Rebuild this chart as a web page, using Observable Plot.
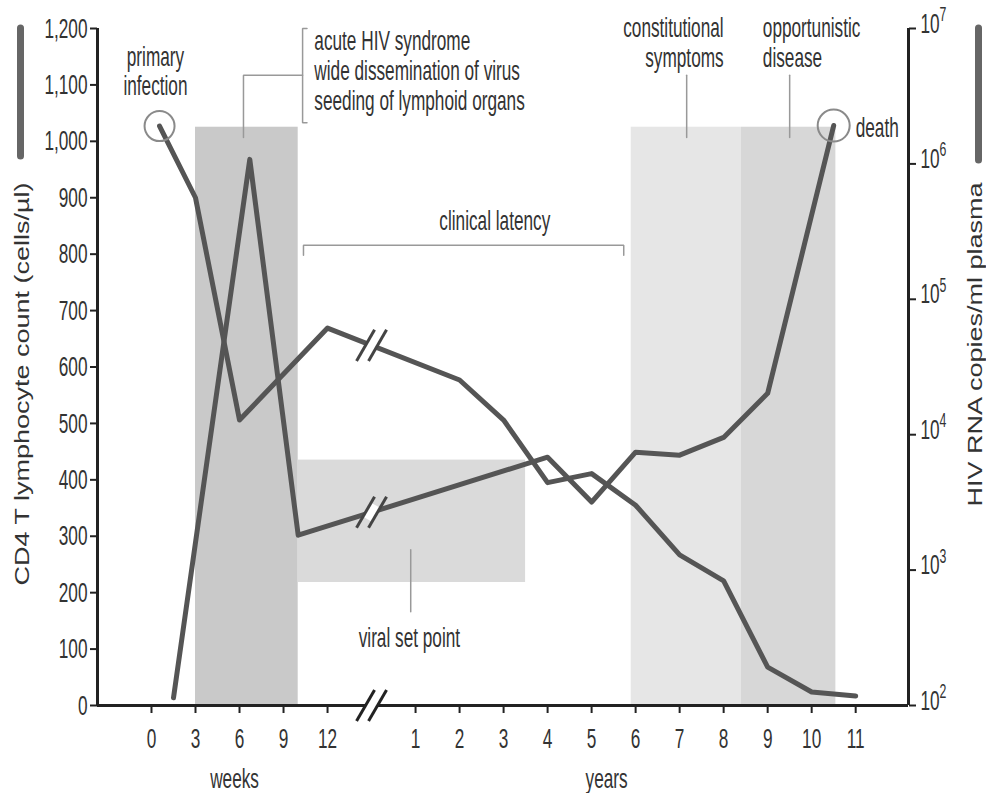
<!DOCTYPE html>
<html>
<head>
<meta charset="utf-8">
<script src="https://cdn.jsdelivr.net/npm/d3@7"></script>
<script src="https://cdn.jsdelivr.net/npm/@observablehq/plot@0.6"></script>
<style>
  body { margin: 0; background: #fff; }
  #wrap { position: relative; width: 986px; height: 793px; }
  #wrap svg { position: absolute; left: 0; top: 0; }
</style>
</head>
<body>
<div id="wrap"></div>
<script>
// ---------------- data ----------------
// broken time axis: weeks (0–12) then years (1–11)
const weekTicks = [0, 3, 6, 9, 12];
const yearTicks = [1, 2, 3, 4, 5, 6, 7, 8, 9, 10, 11];
const cd4Ticks = [0, 100, 200, 300, 400, 500, 600, 700, 800, 900, 1000, 1100, 1200];
const rnaTicks = [1e2, 1e3, 1e4, 1e5, 1e6, 1e7];
const rnaTickExponents = ["2", "3", "4", "5", "6", "7"];

// CD4 T lymphocyte count (cells/µl)
const cd4Unit = ["w", "w", "w", "w", "y", "y", "y", "y", "y", "y", "y", "y", "y", "y"];
const cd4Time = [0.55, 3, 6, 12, 2, 3, 4, 5, 6, 7, 8, 9, 10, 11];
const cd4Value = [1027, 900, 506, 669, 577, 506, 395, 411, 355, 267, 221, 68, 24, 17];

// HIV RNA copies/ml plasma
const rnaUnit = ["w", "w", "w", "y", "y", "y", "y", "y", "y", "y"];
const rnaTime = [1.5, 6.7, 10, 4, 5, 6, 7, 8, 9, 10.5];
const rnaValue = [114, 1.08e6, 1810, 6820, 3180, 7430, 7060, 9550, 20200, 1.92e6];

// shaded phases
const phaseName = ["acute", "viral set point", "constitutional", "opportunistic"];
const phaseStartUnit = ["w", "w", "y", "y"];
const phaseStart = [3, 10, 5.9, 8.4];
const phaseEndUnit = ["w", "y", "y", "y"];
const phaseEnd = [10, 3.5, 8.4, 10.55];
const phaseLow = [0, 218, 0, 0];
const phaseHigh = [1025, 435, 1025, 1025];

// annotations
const noteText = [
  "primary\ninfection",
  "acute HIV syndrome\nwide dissemination of virus\nseeding of lymphoid organs",
  "clinical latency",
  "viral set point",
  "constitutional\nsymptoms",
  "opportunistic\ndisease",
  "death"
];
const noteUnit = ["w", "w", "y", "y", "y", "y", "y"];
const noteTime = [0.27, 11.1, 2.8, 0.86, 8, 8.89, 11];
const noteValue = [1124, 1126, 860, 121, 1175, 1175, 1025];
const noteAlign = ["middle", "start", "middle", "middle", "end", "start", "start"];

// annotation guide lines: [unit, time, value]
const guideAcute = [["w", 6.27, 1007], ["w", 6.27, 1117], ["w", 10.3, 1117]];
const guideAcuteBracket = [["w", 10.6, 1200], ["w", 10.3, 1200], ["w", 10.3, 1033], ["w", 10.6, 1033]];
const guideLatency = [["w", 10.36, 798], ["w", 10.36, 816], ["y", 5.73, 816], ["y", 5.73, 798]];
const guideSetPoint = [["y", 0.89, 276], ["y", 0.89, 166]];
const guideConstitutional = [["y", 7.16, 1117], ["y", 7.16, 1007]];
const guideOpportunistic = [["y", 9.5, 1117], ["y", 9.5, 1007]];

const axisTitleLeft = "CD4 T lymphocyte count (cells/µl)";
const axisTitleRight = "HIV RNA copies/ml plasma";

// ---------------- layout / style ----------------
const W = 986, H = 793;
const M = {marginTop: 28, marginRight: 78, marginBottom: 88, marginLeft: 97};
const FONT = "'Liberation Sans', Arial, sans-serif";
const STRETCH_Y = 1.35, NARROW_X = 0.82;
const INK = "#222", TEXT = "#333", LINE = "#555", GUIDE = "#999";
const phaseFill = ["#c9c9c9", "#dadada", "#e6e6e6", "#d7d7d7"];

// position on the broken axis: 3 weeks per unit, a gap unit, then 1 unit per year
const pos = (unit, t) => unit === "w" ? t / 3 : 5 + t;
const breakX = pos("w", 15);
const xDomain = [pos("w", -3.68), pos("y", 12.2)];

const cd4 = cd4Time.map((t, i) => ({x: pos(cd4Unit[i], t), y: cd4Value[i]}));
const rna = rnaTime.map((t, i) => ({x: pos(rnaUnit[i], t), y: rnaValue[i]}));
const phases = phaseName.map((n, i) => ({
  name: n,
  x1: pos(phaseStartUnit[i], phaseStart[i]),
  x2: pos(phaseEndUnit[i], phaseEnd[i]),
  y1: phaseLow[i], y2: phaseHigh[i], fill: phaseFill[i]
}));
const notes = noteText.map((t, i) => ({text: t, x: pos(noteUnit[i], noteTime[i]), y: noteValue[i], align: noteAlign[i], i}));
const guides = [guideAcute, guideAcuteBracket, guideLatency, guideSetPoint, guideConstitutional, guideOpportunistic]
  .flatMap((g, k) => g.map(([u, t, v]) => ({k, x: pos(u, t), y: v})));

const xTicks = [...weekTicks.map(w => pos("w", w)), ...yearTicks.map(y => pos("y", y))];
const xTickLabel = new Map([...weekTicks.map(w => [pos("w", w), String(w)]), ...yearTicks.map(y => [pos("y", y), String(y)])]);
const fmtComma = d3.format(",");

function valueAt(data, x0, log) {
  for (let i = 0; i < data.length - 1; ++i) {
    const a = data[i], b = data[i + 1];
    if (a.x <= x0 && x0 <= b.x) {
      const f = (x0 - a.x) / (b.x - a.x);
      return log ? 10 ** (Math.log10(a.y) + f * (Math.log10(b.y) - Math.log10(a.y))) : a.y + f * (b.y - a.y);
    }
  }
}

function breakMarks(pt, gap, len, color) {
  const c = {x: "x", y: "y", rotate: 30, anchor: "middle", r: 0, strokeLinecap: "butt"};
  return [
    Plot.vector([pt], {...c, length: gap, stroke: "white", strokeWidth: 10}),
    Plot.vector([pt], {...c, length: len, stroke: color, strokeWidth: 3, dx: -6}),
    Plot.vector([pt], {...c, length: len, stroke: color, strokeWidth: 3, dx: 6})
  ];
}

function noteMark(filter, lineHeight) {
  const data = notes.filter(filter);
  return ["start", "middle", "end"].map(a =>
    Plot.text(data.filter(d => d.align === a), {x: "x", y: "y", text: "text", fill: TEXT, textAnchor: a, lineAnchor: "middle", lineHeight}));
}

const baseStyle = {fontFamily: FONT, fontSize: "21px", color: TEXT, background: "transparent", overflow: "visible"};

// ---------------- plot A: CD4 (linear) ----------------
const plotA = Plot.plot({
  width: W, height: H, ...M,
  style: baseStyle,
  x: {domain: xDomain},
  y: {domain: [0, 1200]},
  marks: [
    Plot.rect(phases, {x1: "x1", x2: "x2", y1: "y1", y2: "y2", fill: "fill"}),
    Plot.line(guides, {x: "x", y: "y", z: "k", stroke: GUIDE, strokeWidth: 1.5, strokeLinejoin: "miter"}),
    ...noteMark(d => d.i === 0, 1.02),
    ...noteMark(d => d.i !== 0, 1.06),
    Plot.axisY({ticks: cd4Ticks, tickFormat: d => fmtComma(d), tickSize: 7, tickPadding: 3, strokeWidth: 2, stroke: INK, fill: TEXT, label: null}),
    Plot.axisX({ticks: xTicks, tickFormat: d => xTickLabel.get(d), tickSize: 8, tickPadding: 14, strokeWidth: 2, stroke: INK, fill: TEXT, label: null}),
    Plot.ruleY([0], {stroke: INK, strokeWidth: 3}),
    Plot.ruleX([xDomain[0]], {y1: 0, y2: 1200, stroke: INK, strokeWidth: 3}),
    Plot.text(["weeks"], {x: () => pos("w", 5.66), frameAnchor: "bottom", dy: 73, fill: TEXT, lineAnchor: "middle"}),
    Plot.text(["years"], {x: () => pos("y", 5.34), frameAnchor: "bottom", dy: 73, fill: TEXT, lineAnchor: "middle"}),
    Plot.line(cd4, {x: "x", y: "y", stroke: LINE, strokeWidth: 5}),
    ...breakMarks({x: breakX, y: valueAt(cd4, breakX, false)}, 16, 36, "#444"),
    Plot.dot([cd4[0]], {x: "x", y: "y", r: 15, stroke: "#8a8a8a", strokeWidth: 2, fill: "none"}),
    ...breakMarks({x: breakX, y: 0}, 14, 36, INK),
    Plot.ruleX([xDomain[0]], {y1: 1200, y2: 973, dx: -77, stroke: "#666", strokeWidth: 7, strokeLinecap: "round"}),
    Plot.ruleX([xDomain[1]], {y1: 1200, y2: 966, dx: 70, stroke: "#666", strokeWidth: 7, strokeLinecap: "round"}),
    Plot.text([axisTitleLeft], {frameAnchor: "left", dx: -75, y: () => 927, rotate: -90, textAnchor: "end",
      lineAnchor: "middle", fontSize: 20, fill: TEXT}),
    Plot.text([axisTitleRight], {frameAnchor: "right", dx: 67, y: () => 927, rotate: -90, textAnchor: "end",
      lineAnchor: "middle", fontSize: 20, fill: TEXT})
  ]
});

// ---------------- plot B: HIV RNA (log) ----------------
const plotB = Plot.plot({
  width: W, height: H, ...M,
  style: baseStyle,
  x: {domain: xDomain, axis: null},
  y: {type: "log", domain: [1e2, 1e7]},
  marks: [
    Plot.line(rna, {x: "x", y: "y", stroke: LINE, strokeWidth: 5}),
    ...breakMarks({x: breakX, y: valueAt(rna, breakX, true)}, 16, 36, "#444"),
    Plot.dot([rna[rna.length - 1]], {x: "x", y: "y", r: 16, stroke: "#8a8a8a", strokeWidth: 2, fill: "none"}),
    Plot.axisY({anchor: "right", ticks: rnaTicks, tickFormat: () => "", tickSize: 7, strokeWidth: 2, stroke: INK, label: null}),
    Plot.ruleX([xDomain[1]], {y1: 1e2, y2: 1e7, stroke: INK, strokeWidth: 3}),
    Plot.text(rnaTicks, {y: d => d, frameAnchor: "right", dx: 12, dy: -5, text: () => "10", textAnchor: "start", fill: TEXT}),
    Plot.text(rnaTicks, {y: d => d, frameAnchor: "right", dx: 31, dy: -14, text: (d, i) => rnaTickExponents[i], textAnchor: "start", fontSize: 15, fill: TEXT})
  ]
});

// the source artwork uses tall, condensed lettering: narrow the glyphs and stretch them vertically
function stretchTexts(svg) {
  d3.select(svg).selectAll("text").each(function () {
    const t = this.getAttribute("transform") || "";
    const rotated = /rotate\(/.test(t);
    this.setAttribute("transform", t + (rotated ? ` scale(${STRETCH_Y},1)` : ` scale(${NARROW_X},${STRETCH_Y})`));
  });
}
stretchTexts(plotA);
stretchTexts(plotB);

const wrap = document.getElementById("wrap");
wrap.appendChild(plotA);
wrap.appendChild(plotB);
</script>
</body>
</html>
